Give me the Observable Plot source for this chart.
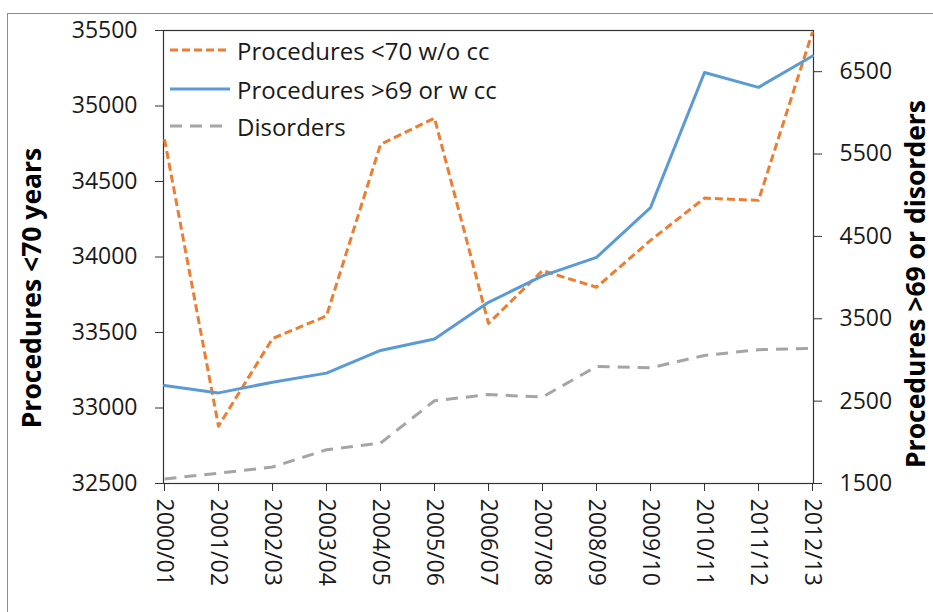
<!DOCTYPE html>
<html>
<head>
<meta charset="utf-8">
<script src="https://cdn.jsdelivr.net/npm/d3@7"></script>
<script src="https://cdn.jsdelivr.net/npm/@observablehq/plot@0.6"></script>
<style>
  html, body { margin: 0; padding: 0; background: #fff; overflow: hidden; }
  #wrap { position: relative; width: 933px; height: 612px; overflow: hidden; font-family: 'Open Sans', sans-serif; }
  #border { position: absolute; left: 7px; top: 13px; width: 2000px; height: 2000px; border: 1px solid #8c8c8c; pointer-events: none; }
  .leg { position: absolute; left: 170px; height: 30px; display: flex; align-items: center; font-size: 24px; color: #1a1a1a; white-space: nowrap; }
  .leg svg { margin-right: 7px; }
</style>
</head>
<body>
<div id="wrap"><div id="border"></div></div>
<script>
const categories = ["2000/01","2001/02","2002/03","2003/04","2004/05","2005/06","2006/07","2007/08","2008/09","2009/10","2010/11","2011/12","2012/13"];
const procUnder70 = [34780, 32880, 33460, 33610, 34745, 34920, 33560, 33910, 33800, 34110, 34390, 34375, 35490];
const procOver69 = [2690, 2600, 2730, 2840, 3115, 3255, 3700, 4020, 4245, 4850, 6490, 6310, 6690];
const disorders = [1555, 1625, 1700, 1910, 1990, 2505, 2580, 2550, 2920, 2905, 3055, 3125, 3140];
const leftTicks = [32500, 33000, 33500, 34000, 34500, 35000, 35500];
const rightTicks = [1500, 2500, 3500, 4500, 5500, 6500];
const leftDomain = [32500, 35500];
const rightDomain = [1500, 7000];
const seriesNames = ["Procedures <70 w/o cc", "Procedures >69 or w cc", "Disorders"];
const leftTitle = "Procedures <70 years";
const rightTitle = "Procedures >69 or disorders";

const k = (leftDomain[1] - leftDomain[0]) / (rightDomain[1] - rightDomain[0]);
const toLeft = v => leftDomain[0] + (v - rightDomain[0]) * k;
const fromLeft = v => rightDomain[0] + (v - leftDomain[0]) / k;

const rows = (vals, f) => categories.map((c, i) => ({cat: c, v: f(vals[i])}));
const dOrange = rows(procUnder70, v => v);
const dBlue = rows(procOver69, toLeft);
const dGray = rows(disorders, toLeft);

const styles = [
  {stroke: "#ED7D31", strokeWidth: 3, strokeDasharray: "8,4", strokeLinecap: "butt"},
  {stroke: "#5B9BD5", strokeWidth: 3, strokeLinecap: "round"},
  {stroke: "#A5A5A5", strokeWidth: 3, strokeDasharray: "12,8", strokeLinecap: "butt"}
];

const chart = Plot.plot({
  width: 933,
  height: 612,
  marginLeft: 163,
  marginRight: 120,
  marginTop: 30,
  marginBottom: 129,
  style: {fontFamily: "'Open Sans', sans-serif", fontSize: "23px", color: "#1a1a1a", background: "white", overflow: "visible"},
  x: {type: "point", domain: categories, padding: 0, label: null},
  y: {domain: leftDomain, label: null},
  marks: [
    Plot.axisX({tickRotate: 90, tickSize: 8, tickPadding: 7, label: null, stroke: "#333"}),
    Plot.axisY(leftTicks, {anchor: "left", tickSize: 8, tickPadding: 18, label: null, tickFormat: "d", stroke: "#333"}),
    Plot.axisY(rightTicks.map(toLeft), {anchor: "right", tickSize: 8, tickPadding: 18, label: null, stroke: "#333", tickFormat: d => String(Math.round(fromLeft(d)))}),
    Plot.frame({stroke: "#333", strokeWidth: 1.2}),
    Plot.line(dOrange, {x: "cat", y: "v", ...styles[0], strokeLinejoin: "round"}),
    Plot.line(dBlue, {x: "cat", y: "v", ...styles[1], strokeLinejoin: "round"}),
    Plot.line(dGray, {x: "cat", y: "v", ...styles[2], strokeLinejoin: "round"}),
    Plot.text([leftTitle], {text: d => d, frameAnchor: "left", rotate: -90, dx: -131, dy: 31, fontWeight: "bold", fontSize: 26.5, textAnchor: "middle", lineAnchor: "middle", fill: "#000"}),
    Plot.text([rightTitle], {text: d => d, frameAnchor: "right", rotate: -90, dx: 103, dy: 27, fontWeight: "bold", fontSize: 26.5, textAnchor: "middle", lineAnchor: "middle", fill: "#000"})
  ]
});

const wrap = document.getElementById("wrap");
wrap.insertBefore(chart, wrap.firstChild);
chart.style.position = "absolute";
chart.style.left = "0";
chart.style.top = "0";

const legTops = [35, 74, 111];
seriesNames.forEach((name, i) => {
  const row = document.createElement("div");
  row.className = "leg";
  row.style.top = legTops[i] + "px";
  const s = styles[i];
  row.innerHTML = `<svg width="60" height="10"><line x1="0" x2="60" y1="5" y2="5" stroke="${s.stroke}" stroke-width="${s.strokeWidth}" ${s.strokeDasharray ? `stroke-dasharray="${s.strokeDasharray}"` : ""} stroke-linecap="butt"/></svg><span></span>`;
  row.querySelector("span").textContent = name;
  wrap.appendChild(row);
});
</script>
</body>
</html>
